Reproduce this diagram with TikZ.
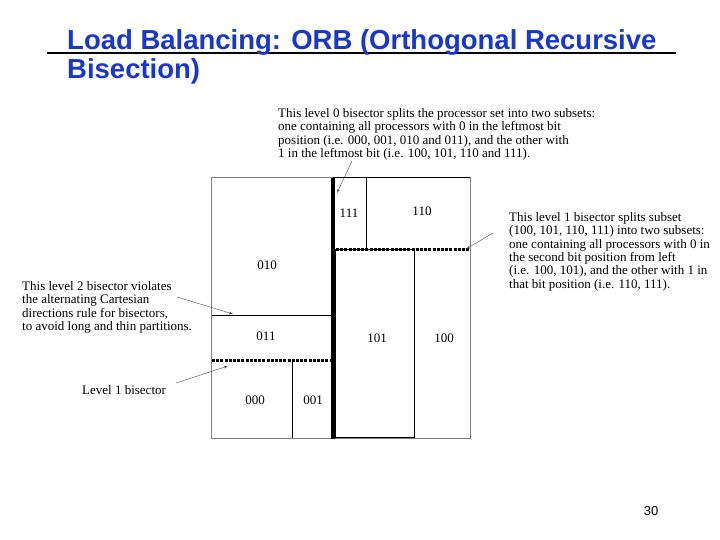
\documentclass[tikz,border=0pt]{standalone}
\usepackage{fontspec}
\setmainfont{Liberation Serif}
\newfontfamily\titlefont{Liberation Sans}
\usetikzlibrary{arrows,calc}
\definecolor{titleblue}{RGB}{25,55,205}
\definecolor{framegray}{RGB}{128,128,128}
\tikzstyle{cell} = [inner sep=0pt, font=\fontsize{13}{14}\selectfont]
\tikzstyle{note} = [inner sep=0pt, anchor=north west, align=left,
    font=\fontsize{13}{13.4}\selectfont]
\tikzstyle{pointer} = [draw, gray!60!black, thin, -latex']
\tikzstyle{split} = [draw, black, line width=1pt]
\tikzstyle{level0} = [draw, black, line width=4pt]
\tikzstyle{level1} = [draw, black, line width=3pt, dash pattern=on 3pt off 1.2pt]

\begin{document}
\begin{tikzpicture}[x=1pt,y={(0pt,-1pt)}]
    \useasboundingbox (0,0) rectangle (720,540);
    \fill[white] (0,0) rectangle (720,540);
    % Title
    \draw[line width=2pt] (47,53) -- (676,53);
    \node[anchor=north west, inner sep=0pt, align=left, text=titleblue,
        font=\titlefont\bfseries\fontsize{27.5}{29.5}\selectfont] (title) at (67,29)
        {Load Balancing: ORB (Orthogonal Recursive\\Bisection)};
    % Partition
    \draw[framegray, line width=1pt] (211,178) rectangle (470,438);
    \path[split] (333,178) -- (470,178);
    \path[split] (366,178) -- (366,249);
    \path[split] (335,249) rectangle (414,437);
    \path[split] (212,315) -- (331,315);
    \path[split] (292,360) -- (292,438);
    \path[level1] (212,360) -- (331,360);
    \path[level1] (336,249) -- (470,249);
    \path[level0] (333,178) -- (333,439);
    % Place nodes
    \node[cell] (c111) at (349,213) {111};
    \node[cell] (c110) at (422,211) {110};
    \node[cell] (c010) at (267,265) {010};
    \node[cell] (c011) at (266,336) {011};
    \node[cell] (c101) at (377,338) {101};
    \node[cell] (c100) at (444,338) {100};
    \node[cell] (c000) at (255,400) {000};
    \node[cell] (c001) at (313,400) {001};
    \node[note] (note0) at (278,108) {This level 0 bisector splits the processor set into two subsets:\\
        one containing all processors with 0 in the leftmost bit\\
        position (i.e. 000, 001, 010 and 011), and the other with\\
        1 in the leftmost bit (i.e. 100, 101, 110 and 111).};
    \node[note] (note1) at (509,212) {This level 1 bisector splits subset\\
        (100, 101, 110, 111) into two subsets:\\
        one containing all processors with 0 in\\
        the second bit position from left\\
        (i.e. 100, 101), and the other with 1 in\\
        that bit position (i.e. 110, 111).};
    \node[note] (note2) at (22,281) {This level 2 bisector violates\\
        the alternating Cartesian\\
        directions rule for bisectors,\\
        to avoid long and thin partitions.};
    \node[note] (note3) at (82,385) {Level 1 bisector};
    \node[anchor=center, inner sep=0pt, font=\titlefont\fontsize{13}{15}\selectfont]
        (page) at (651,511) {30};
    % Draw edges
    \coordinate (tail0) at (352,161);
    \coordinate (tip0) at (337,193);
    \coordinate (tail1) at (493,233);
    \coordinate (tip1) at (466,249);
    \coordinate (tail2) at (177,297);
    \coordinate (tip2) at (233,314);
    \coordinate (tail3) at (176,383);
    \coordinate (tip3) at (228,366);
    \path [pointer] (tail0) -- (tip0);
    \path [pointer] (tail1) -- (tip1);
    \path [pointer] (tail2) -- (tip2);
    \path [pointer] (tail3) -- (tip3);
\end{tikzpicture}
\end{document}
